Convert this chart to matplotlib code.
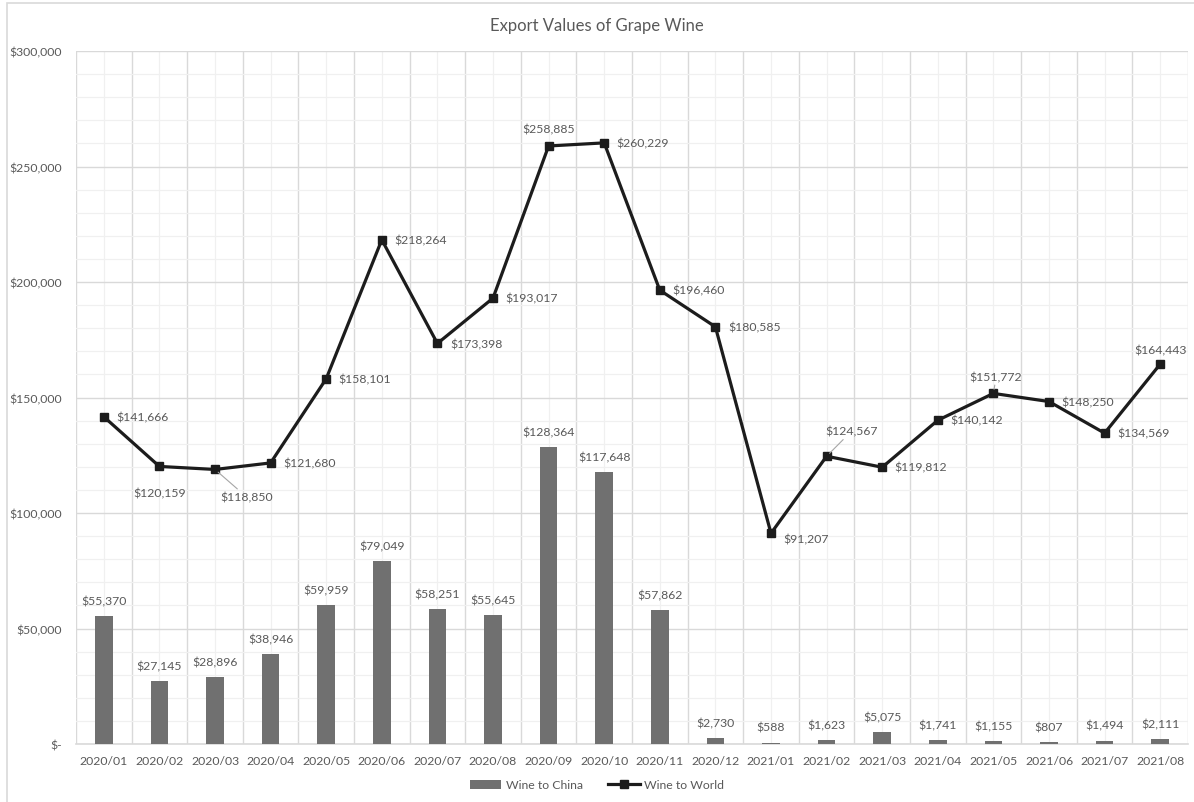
import matplotlib
matplotlib.use("Agg")
import matplotlib.pyplot as plt
from matplotlib.ticker import MultipleLocator, FuncFormatter
from matplotlib.lines import Line2D
from matplotlib.patches import Patch, Rectangle

plt.rcParams['font.family'] = ['Lato', 'DejaVu Sans']

months = ["2020/01", "2020/02", "2020/03", "2020/04", "2020/05", "2020/06", "2020/07",
          "2020/08", "2020/09", "2020/10", "2020/11", "2020/12", "2021/01", "2021/02",
          "2021/03", "2021/04", "2021/05", "2021/06", "2021/07", "2021/08"]
wine_to_china = [55370, 27145, 28896, 38946, 59959, 79049, 58251, 55645, 128364, 117648,
                 57862, 2730, 588, 1623, 5075, 1741, 1155, 807, 1494, 2111]
wine_to_world = [141666, 120159, 118850, 121680, 158101, 218264, 173398, 193017, 258885,
                 260229, 196460, 180585, 91207, 124567, 119812, 140142, 151772, 148250,
                 134569, 164443]

# placement of each "Wine to World" label: (dx points, dy points, ha, va, leader)
world_label_pos = {
    1: (0, -15, 'center', 'top', False),
    2: (4, -16, 'left', 'top', True),
    8: (0, 8, 'center', 'bottom', False),
    12: (9, -4, 'left', 'center', False),
    13: (-1, 14, 'left', 'bottom', True),
    16: (2, 8, 'center', 'bottom', True),
    19: (0, 6, 'center', 'bottom', False),
}

text_color = "#595959"
bar_color = "#707070"
line_color = "#1c1c1c"
fs = 8.8

fig = plt.figure(figsize=(11.94, 8.03), dpi=100)
fig.patches.append(Rectangle((7 / 1194, -0.01), 1.1, 1 - 4 / 803 + 0.01,
                             transform=fig.transFigure, fill=False,
                             edgecolor="#d9d9d9", linewidth=1.2))
ax = fig.add_axes([76 / 1194, 1 - 745 / 803, (1188 - 76) / 1194, (745 - 52) / 803])

x = list(range(len(months)))
ax.bar(x, wine_to_china, width=0.32, color=bar_color, zorder=3)
ax.plot(x, wine_to_world, color=line_color, linewidth=2.3, marker='s', markersize=5.8,
        zorder=4)

ax.set_xlim(-0.5, len(months) - 0.5)
ax.set_ylim(0, 300000)

ax.yaxis.set_major_locator(MultipleLocator(50000))
ax.yaxis.set_minor_locator(MultipleLocator(10000))
ax.yaxis.set_major_formatter(FuncFormatter(lambda v, p: "$-" if v == 0 else f"${v:,.0f}"))
ax.set_xticks(x)
ax.set_xticklabels(months)
ax.set_xticks([i + 0.5 for i in range(-1, len(months))], minor=True)

for s in ax.spines.values():
    s.set_visible(False)
ax.spines['bottom'].set_visible(True)
ax.spines['bottom'].set_color("#d9d9d9")
ax.spines['bottom'].set_linewidth(1.2)

ax.grid(which='major', axis='y', color="#d9d9d9", linewidth=1.0, zorder=0)
ax.grid(which='minor', axis='y', color="#f0f0f0", linewidth=0.9, zorder=0)
# category boundaries as major vertical lines, category centres as minor ones
ax.grid(which='minor', axis='x', color="#d9d9d9", linewidth=1.0, zorder=0)
ax.grid(which='major', axis='x', color="#f0f0f0", linewidth=0.9, zorder=0)
ax.set_axisbelow(True)

ax.tick_params(which='both', length=0)
ax.tick_params(axis='x', colors=text_color, labelsize=fs, pad=8)
ax.tick_params(axis='y', colors=text_color, labelsize=fs, pad=10)

for i, v in enumerate(wine_to_china):
    ax.annotate(f"${v:,}", (i, v), xytext=(0, 7), textcoords='offset points',
                ha='center', va='bottom', fontsize=fs, color=text_color, zorder=5)

for i, v in enumerate(wine_to_world):
    dx, dy, ha, va, leader = world_label_pos.get(i, (9, 0, 'left', 'center', False))
    arrow = dict(arrowstyle='-', color="#a6a6a6", linewidth=0.8, shrinkA=0, shrinkB=3) if leader else None
    ax.annotate(f"${v:,}", (i, v), xytext=(dx, dy), textcoords='offset points',
                ha=ha, va=va, fontsize=fs, color=text_color, zorder=5,
                arrowprops=arrow)

fig.text(0.5, 1 - 26 / 803, "Export Values of Grape Wine", ha='center', va='center',
         fontsize=12, color=text_color)

handles = [Patch(facecolor=bar_color, edgecolor='none'),
           Line2D([0], [0], color=line_color, linewidth=2.3, marker='s', markersize=5.8)]
fig.legend(handles, ["Wine to China", "Wine to World"], loc='center',
           bbox_to_anchor=(0.5, 1 - 786 / 803), ncol=2, frameon=False, fontsize=fs,
           labelcolor=text_color, handlelength=2.6, handletextpad=0.4, columnspacing=2.0)

fig.savefig("out.png", dpi=100)
